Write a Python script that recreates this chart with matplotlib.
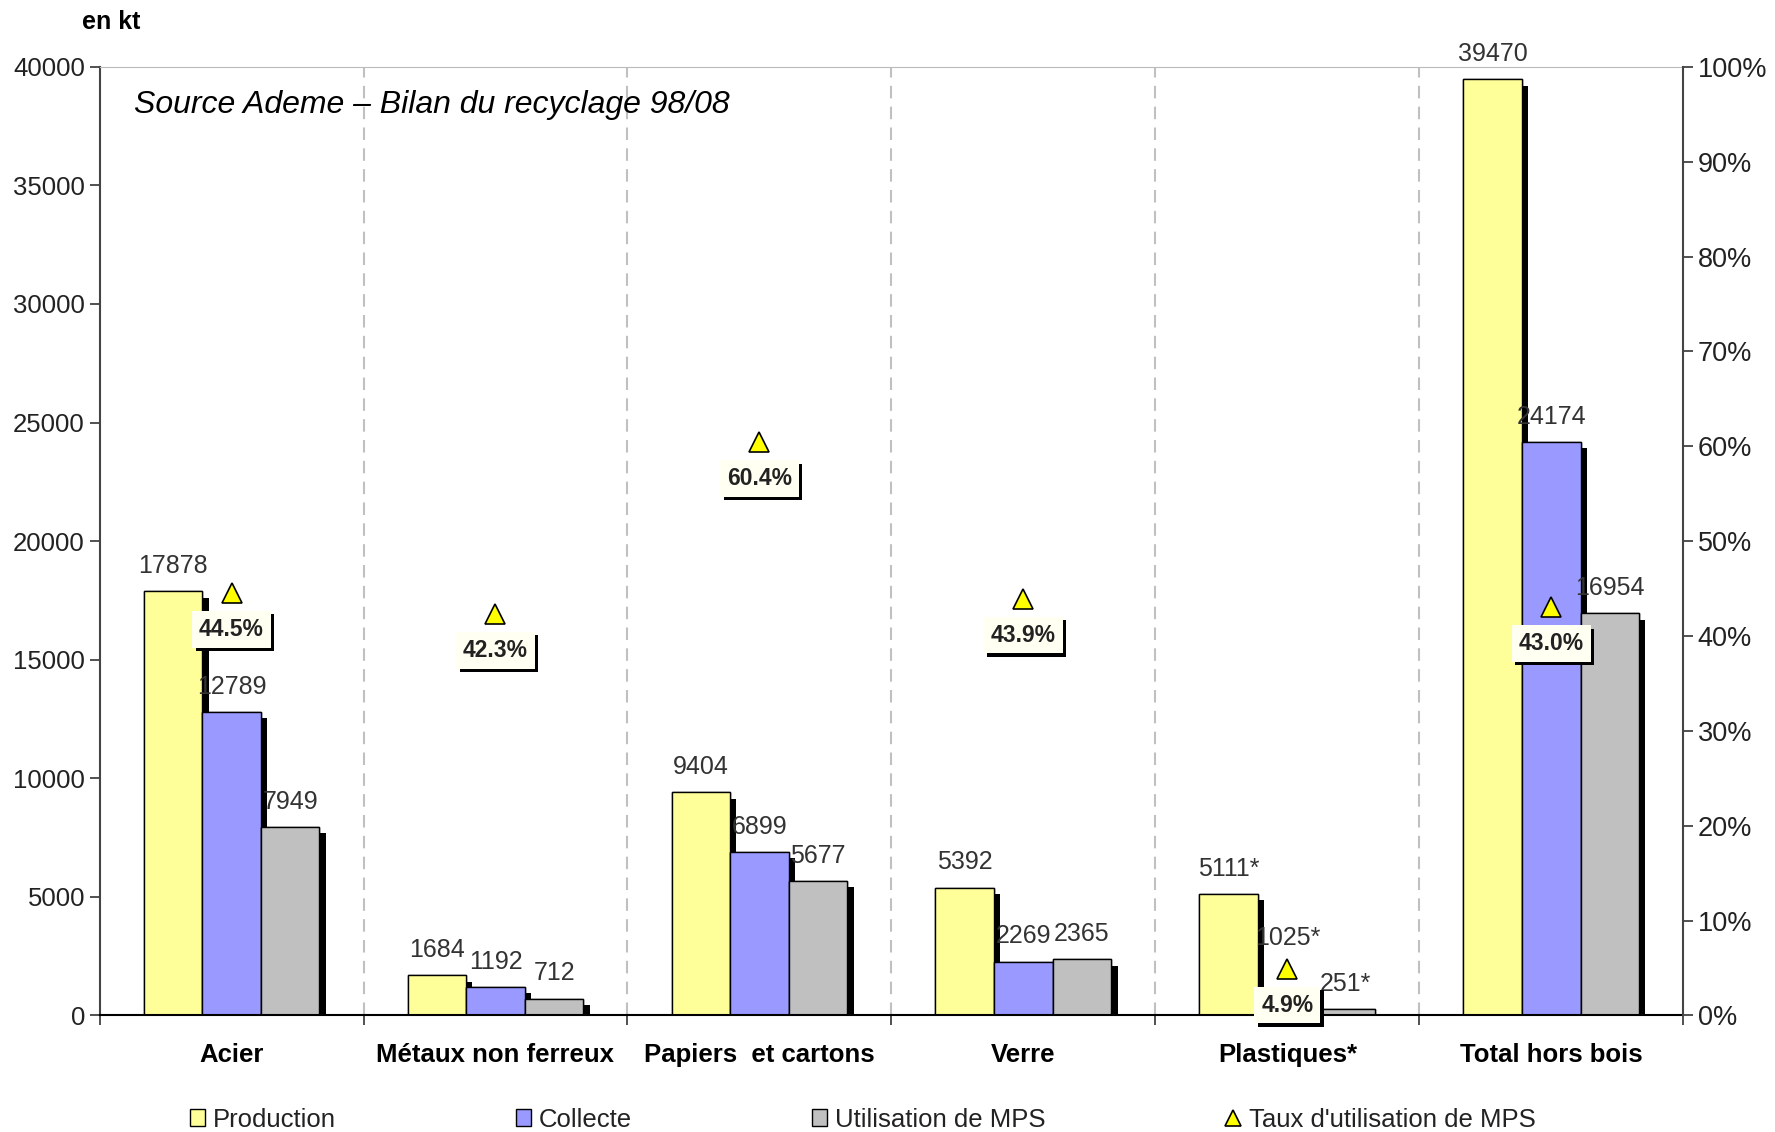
import matplotlib
matplotlib.use("Agg")
from matplotlib import pyplot as plt
from matplotlib import patheffects
from matplotlib.patches import Patch
from matplotlib.lines import Line2D
import numpy as np

plt.rcParams['font.family'] = ['Liberation Sans', 'DejaVu Sans']

categories = ["Acier", "Métaux non ferreux", "Papiers  et cartons", "Verre",
              "Plastiques*", "Total hors bois"]
production = [17878, 1684, 9404, 5392, 5111, 39470]
collecte = [12789, 1192, 6899, 2269, 1025, 24174]
utilisation = [7949, 712, 5677, 2365, 251, 16954]
taux = [0.445, 0.423, 0.604, 0.439, 0.049, 0.430]
star = [False, False, False, False, True, False]  # plastiques values marked with *

series = [("Production", production, "#FFFF99"),
          ("Collecte", collecte, "#9999FF"),
          ("Utilisation de MPS", utilisation, "#C0C0C0")]

# extra lift (points) for labels that would sit on a triangle
label_nudge = {(1, 4): 20}

fig = plt.figure(figsize=(17.75, 11.32), dpi=100)
ax = fig.add_axes([0.0561, 0.103, 0.8922, 0.838])
x = np.arange(len(categories))
w = 0.222

# dashed separators between the groups
for b in np.arange(0.5, len(categories) - 0.5, 1):
    ax.axvline(b, color="#C0C0C0", ls=(0, (6, 4)), lw=1.5, zorder=0)

shadow = [patheffects.withSimplePatchShadow(offset=(4.5, -4.5), shadow_rgbFace="black", alpha=1.0),
          patheffects.Normal()]

for k, (name, vals, col) in enumerate(series):
    bars = ax.bar(x + (k - 1) * w, vals, w, color=col, edgecolor="black", lw=1, zorder=2)
    for b in bars:
        b.set_path_effects(shadow)
    for i, v in enumerate(vals):
        lab = str(v) + ("*" if star[i] else "")
        dy = 9.5 + label_nudge.get((k, i), 0)
        ax.annotate(lab, (x[i] + (k - 1) * w, v), xytext=(0, dy), textcoords="offset points",
                    ha="center", va="bottom", fontsize=18, color="#333333", zorder=3)

ax.set_xlim(-0.5, len(categories) - 0.5)
ax.set_ylim(0, 40000)
ax.set_yticks(np.arange(0, 40001, 5000))
ax.set_xticks(np.arange(-0.5, len(categories), 1))
ax.set_xticklabels([])
ax.set_xticks(x, minor=True)
ax.set_xticklabels(categories, minor=True, fontweight="bold", fontsize=18.5)
ax.tick_params(axis="x", which="major", length=7, width=1.2, color="#333333")
ax.tick_params(axis="x", which="minor", length=0, pad=20)
ax.tick_params(axis="y", length=7, width=1.2, labelsize=18.5, labelcolor="#222222", color="#333333")
ax.spines["top"].set_color("#BBBBBB")
ax.spines["left"].set_color("#444444")
ax.spines["left"].set_linewidth(1.5)
ax.spines["bottom"].set_linewidth(1.5)
ax.spines["right"].set_visible(False)

ax2 = ax.twinx()
ax2.set_ylim(0, 1)
ax2.set_yticks(np.arange(0, 1.01, 0.1))
ax2.set_yticklabels([f"{int(round(t * 100))}%" for t in np.arange(0, 1.01, 0.1)])
ax2.tick_params(axis="y", length=7, width=1.2, labelsize=19.5, labelcolor="#222222", color="#333333")
for s in ["top", "left", "bottom"]:
    ax2.spines[s].set_visible(False)
ax2.spines["right"].set_color("#444444")
ax2.spines["right"].set_linewidth(1.5)

ax2.plot(x, taux, ls="none", marker="^", ms=14, mfc="#FFFF00", mec="black", mew=1.2, zorder=4)
box_shadow = [patheffects.withSimplePatchShadow(offset=(2.5, -2.5), shadow_rgbFace="black", alpha=1.0),
              patheffects.Normal()]
for i, t in enumerate(taux):
    txt = ax2.annotate(f"{t * 100:.1f}%", (x[i], t), xytext=(0, -26), textcoords="offset points",
                       ha="center", va="center", fontsize=16.5, fontweight="bold", color="#222222",
                       bbox=dict(boxstyle="square,pad=0.3", fc="#FFFFF2", ec="none"), zorder=5)
    txt.get_bbox_patch().set_path_effects(box_shadow)

ax.text(0.022, 0.96, "Source Ademe – Bilan du recyclage 98/08", transform=ax.transAxes,
        fontsize=23, fontstyle="italic", ha="left", va="center", color="black")
fig.text(0.0625, 0.981, "en kt", fontsize=18, fontweight="bold", ha="center", va="center")

handles = [Patch(fc=col, ec="black", lw=1) for _, _, col in series]
handles.append(Line2D([], [], ls="none", marker="^", ms=12, mfc="#FFFF00", mec="black", mew=1.2))
labels = [s[0] for s in series] + ["Taux d'utilisation de MPS"]
fig.legend(handles, labels, loc="center", bbox_to_anchor=(0.486, 0.011), ncol=4, frameon=False,
           fontsize=18.5, columnspacing=7.0, handlelength=0.6, handleheight=0.6, handletextpad=0.3,
           labelcolor="#222222")

fig.savefig("out.png", dpi=100)
